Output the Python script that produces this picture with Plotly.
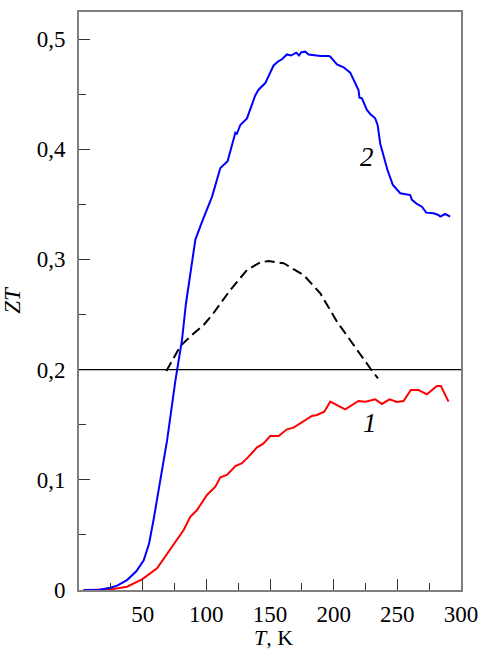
import plotly.graph_objects as go

# Sample 1 (red)
T_1 = [3.7, 15, 24.6, 37.7, 49.5, 61.3, 74.3, 82.2, 87.4, 92.7, 100.5, 107.1, 111, 116.2,
       122.8, 128, 133.2, 139.8, 144.5, 150.2, 156.8, 163.3, 168.5, 175.1, 182.9, 186.9,
       192.6, 197.3, 209.1, 219.5, 224.8, 232.7, 237.9, 243.9, 249.7, 254.9, 260.6, 266.6,
       273.2, 281.1, 284.2, 290.2]
ZT_1 = [0.0, 0.0, 0.0005, 0.003, 0.0097, 0.0197, 0.042, 0.0544, 0.0665, 0.0726, 0.0862,
        0.0938, 0.1023, 0.1044, 0.1125, 0.115, 0.121, 0.1295, 0.1325, 0.1397, 0.1397,
        0.1458, 0.1473, 0.1518, 0.1579, 0.1588, 0.1618, 0.1709, 0.164, 0.1715, 0.1709,
        0.173, 0.1688, 0.173, 0.1706, 0.1715, 0.1815, 0.1815, 0.1776, 0.1851, 0.1851, 0.1709]

# Sample 2 (blue)
T_2 = [3.5, 15, 24.6, 30, 37.7, 45, 50.8, 55, 58.6, 63.9, 69.2, 75.7, 80.9, 84, 87.4,
       91.4, 96.6, 104.5, 111, 116.7, 122.8, 124, 126.7, 131.9, 138.5, 141, 146.3, 152.8,
       156.8, 159.4, 163.3, 166.5, 170.6, 172.8, 174.6, 177.7, 180.3, 189.5, 196, 197.3,
       202.6, 207.8, 213, 215.6, 219.5, 220.3, 222.2, 226.1, 228.7, 232.6, 234.5, 236.6,
       239.2, 242.3, 246.5, 252.3, 260.1, 261.5, 265.4, 269.3, 272.7, 278.4, 282.3, 283.7,
       287.6, 291.5]
ZT_2 = [0.0, 0.0, 0.002, 0.004, 0.009, 0.017, 0.027, 0.042, 0.064, 0.100, 0.136, 0.19,
        0.227, 0.26, 0.288, 0.318, 0.334, 0.357, 0.383, 0.389, 0.415, 0.414, 0.422, 0.428,
        0.449, 0.454, 0.460, 0.476, 0.480, 0.4816, 0.486, 0.485, 0.4876, 0.485, 0.488,
        0.4885, 0.486, 0.4846, 0.4846, 0.4840, 0.477, 0.4743, 0.4695, 0.4628, 0.4537,
        0.4468, 0.4462, 0.4356, 0.432, 0.428, 0.422, 0.405, 0.3947, 0.381, 0.3675, 0.36,
        0.3584, 0.354, 0.3503, 0.3478, 0.3424, 0.3418, 0.3403, 0.3388, 0.3412, 0.3388]

# Dashed reference curve
T_D = [68.6, 79.6, 87.4, 97.9, 104.5, 118.8, 131.9, 142.4, 148.9, 160.7, 176.4, 189.5,
       202.6, 218.3, 228.7, 234.8]
ZT_D = [0.1987, 0.2214, 0.23, 0.2405, 0.2495, 0.2722, 0.2904, 0.2974, 0.2985, 0.2965,
        0.2858, 0.2692, 0.2435, 0.2178, 0.2012, 0.192]

ZT_REF = 0.2

X_TICKS = [50, 100, 150, 200, 250, 300]
Y_TICKS = [0, 0.1, 0.2, 0.3, 0.4, 0.5]
Y_LABELS = ["0", "0,1", "0,2", "0,3", "0,4", "0,5"]

FONT = "Liberation Serif, Times New Roman, serif"

fig = go.Figure()
fig.add_trace(go.Scatter(x=T_D, y=ZT_D, mode="lines",
                         line=dict(color="black", width=2, dash="10px,5px")))
fig.add_trace(go.Scatter(x=T_1, y=ZT_1, mode="lines",
                         line=dict(color="#ff0000", width=2)))
fig.add_trace(go.Scatter(x=T_2, y=ZT_2, mode="lines",
                         line=dict(color="#0000ff", width=2)))

fig.add_shape(type="line", xref="paper", x0=0, x1=1, yref="y", y0=ZT_REF, y1=ZT_REF,
              line=dict(color="black", width=1.3))

fig.add_annotation(x=226, y=0.393, text="<i>2</i>", showarrow=False,
                   font=dict(family=FONT, size=27, color="black"))
fig.add_annotation(x=228.7, y=0.152, text="<i>1</i>", showarrow=False,
                   font=dict(family=FONT, size=27, color="black"))

# x-axis title placed below the tick labels
fig.add_annotation(xref="paper", yref="paper", x=0.509, y=0, yanchor="top", yshift=-34,
                   text="<i>T</i>, K", showarrow=False, borderpad=0,
                   font=dict(family=FONT, size=22, color="black"))

axis_common = dict(showgrid=False, zeroline=False, showline=True, linecolor="#7f7f7f",
                   linewidth=2, mirror=True, ticks="inside", tickcolor="#333333",
                   tickwidth=1.3, ticklen=11, automargin=False,
                   tickfont=dict(family=FONT, size=23, color="black"))

fig.update_xaxes(range=[0, 300], tickvals=X_TICKS, ticklabelstandoff=2,
                 minor=dict(tickvals=[25, 75, 125, 175, 225, 275], ticks="inside",
                            ticklen=7, tickcolor="#333333", tickwidth=1.3),
                 **axis_common)
fig.update_yaxes(range=[0, 0.5245], tickvals=Y_TICKS, ticktext=Y_LABELS,
                 ticklabelstandoff=7,
                 minor=dict(tickvals=[0.05, 0.15, 0.25, 0.35, 0.45], ticks="inside",
                            ticklen=7, tickcolor="#333333", tickwidth=1.3),
                 title=dict(text="<i>ZT</i>", font=dict(family=FONT, size=23, color="black"),
                            standoff=12),
                 **axis_common)

fig.update_layout(width=481, height=652, showlegend=False,
                  margin=dict(l=79, r=20, t=12, b=62),
                  plot_bgcolor="white", paper_bgcolor="white")

fig.write_html("out.html")
